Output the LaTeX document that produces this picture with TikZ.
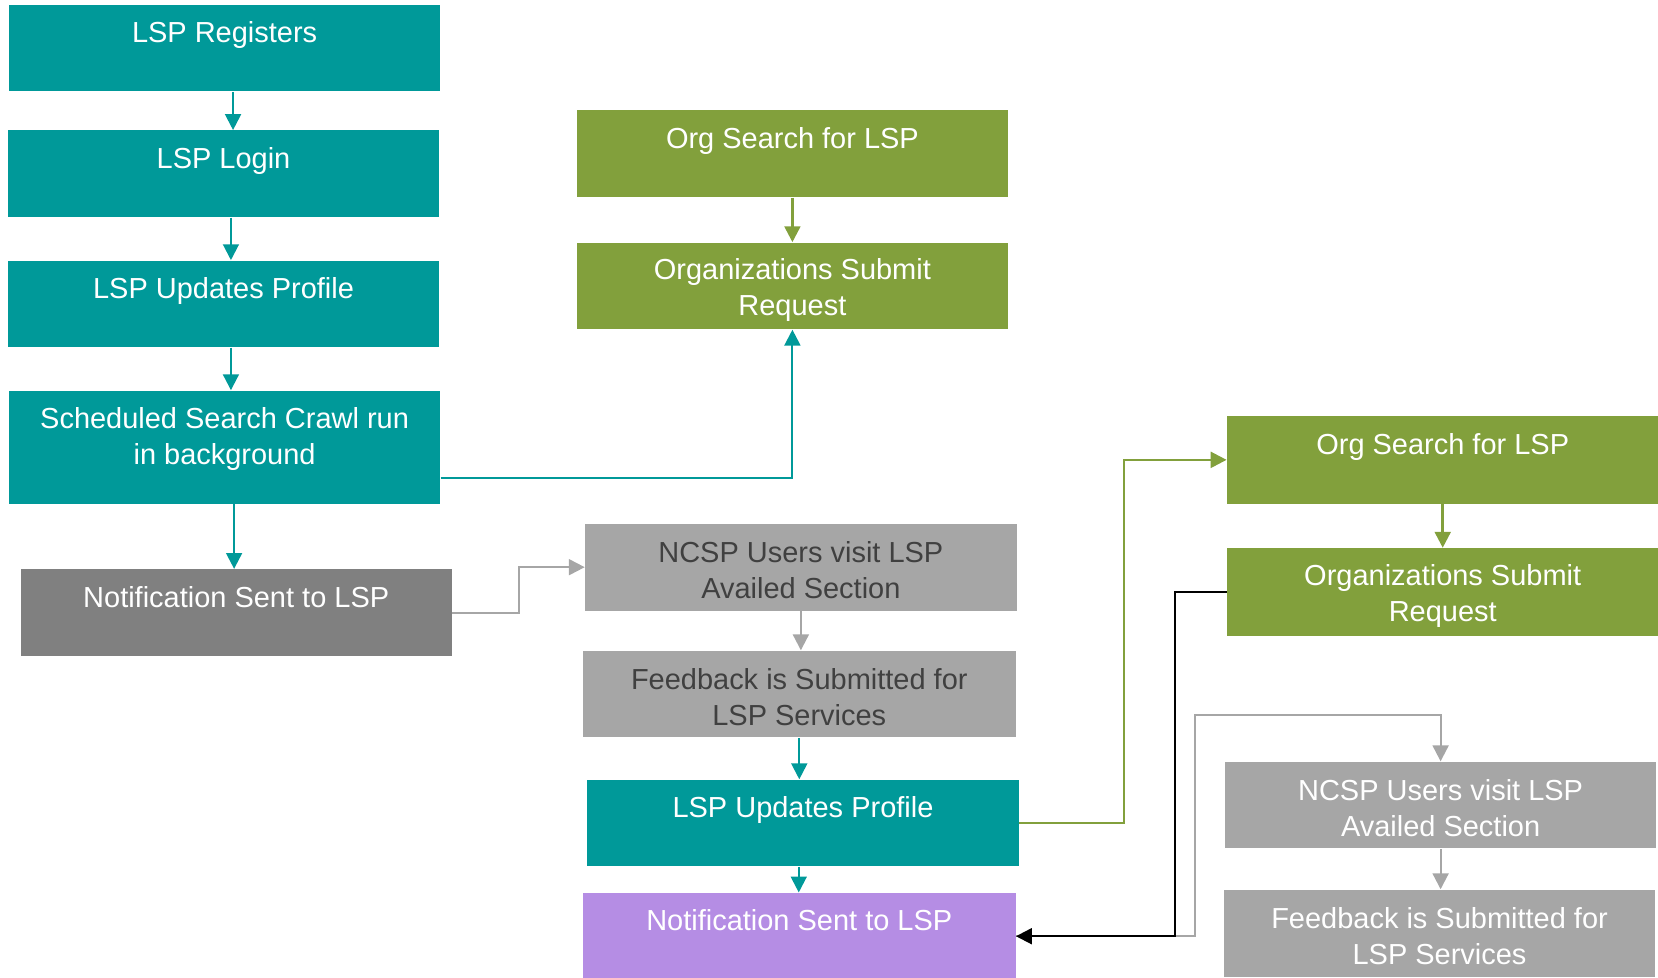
\documentclass[tikz,border=0pt]{standalone}
\usepackage{fontspec}
\setmainfont{Liberation Sans}
\usetikzlibrary{arrows.meta,calc}
\definecolor{tealc}{RGB}{0,153,153}
\definecolor{greenc}{RGB}{130,160,60}
\definecolor{grayc}{RGB}{166,166,166}
\definecolor{dgrayc}{RGB}{128,128,128}
\definecolor{purplec}{RGB}{181,141,228}
\definecolor{textd}{RGB}{64,64,64}
\begin{document}
\begin{tikzpicture}[x=0.5pt,y=-0.5pt,
  font=\fontsize{13.7pt}{17pt}\selectfont,
  box/.style={anchor=north west, minimum width=204pt, minimum height=41pt,
    inner sep=0pt, align=center, text=white},
  tbox/.style={box, fill=tealc},
  gbox/.style={box, fill=greenc},
  ybox/.style={box, fill=grayc},
  dbox/.style={box, fill=dgrayc},
  pbox/.style={box, fill=purplec},
  conn/.style={line width=1pt, -{Triangle[length=7.5pt,width=7.5pt]}},
  tconn/.style={conn, draw=tealc},
  gconn/.style={conn, draw=greenc, line width=1.2pt},
  yconn/.style={conn, draw=grayc},
  kconn/.style={conn, draw=black}]
\useasboundingbox (0,0) rectangle (1568,924);
% left column
\node[tbox] (b1) at (8,4) {LSP Registers\\[-2pt]\mbox{}};
\node[tbox] (b2) at (7,123) {LSP Login\\[-2pt]\mbox{}};
\node[tbox] (b3) at (7,246) {LSP Updates Profile\\[-2pt]\mbox{}};
\node[tbox, minimum height=53.5pt] (b4) at (8,369) {Scheduled Search Crawl run\\in background\\[-6.5pt]\mbox{}};
\node[dbox] (b5) at (19,538) {Notification Sent to LSP\\[-2pt]\mbox{}};
% middle column
\node[gbox] (g1) at (545,104) {Org Search for LSP\\[-2pt]\mbox{}};
\node[gbox] (g2) at (545,229) {Organizations Submit\\Request\\[-18pt]\mbox{}};
\node[ybox, text=textd] (n1) at (553,495) {NCSP Users visit LSP\\Availed Section\\[-19.5pt]\mbox{}};
\node[ybox, text=textd, minimum width=204.5pt] (f1) at (551,615) {Feedback is Submitted for\\LSP Services\\[-19.5pt]\mbox{}};
\node[tbox] (u2) at (555,737) {LSP Updates Profile\\[-2pt]\mbox{}};
\node[pbox, minimum width=204.5pt] (p2) at (551,844) {Notification Sent to LSP\\[-2pt]\mbox{}};
% right column
\node[gbox, minimum height=41.5pt] (g3) at (1160,393) {Org Search for LSP\\[-2pt]\mbox{}};
\node[gbox, minimum height=41.5pt] (g4) at (1160,518) {Organizations Submit\\Request\\[-18pt]\mbox{}};
\node[ybox] (n2) at (1158,720) {NCSP Users visit LSP\\Availed Section\\[-19.5pt]\mbox{}};
\node[ybox, minimum height=41.5pt] (f2) at (1157,841) {Feedback is Submitted for\\LSP Services\\[-19.5pt]\mbox{}};
% connectors
\draw[tconn] ([xshift=4pt]b1.south) -- ([xshift=4pt]b1.south |- b2.north);
\draw[tconn] ([xshift=3.5pt]b2.south) -- ([xshift=3.5pt]b2.south |- b3.north);
\draw[tconn] ([xshift=3.5pt]b3.south) -- ([xshift=3.5pt]b3.south |- b4.north);
\draw[tconn] ([xshift=4.5pt]b4.south) -- ([xshift=4.5pt]b4.south |- b5.north);
\draw[tconn] ([yshift=-14.75pt]b4.east) -| (g2.south);
\draw[gconn] (g1.south) -- (g2.north);
\draw[yconn] (b5.east) -- ++(63,0) |- (n1.west);
\draw[yconn] (n1.south) -- (n1.south |- f1.north);
\draw[tconn] (f1.south) -- (f1.south |- u2.north);
\draw[tconn] ([xshift=-2pt]u2.south) -- ([xshift=-2pt]u2.south |- p2.north);
\draw[gconn] (u2.east) -- ++(99,0) |- (g3.west);
\draw[gconn] (g3.south) -- (g4.north);
\draw[yconn] (p2.east) -- ++(169,0) -- ++(0,-209) -| (n2.north);
\draw[kconn] (g4.west) -- ++(-49,0) |- (p2.east);
\draw[yconn] (n2.south) -- (n2.south |- f2.north);
\end{tikzpicture}
\end{document}
